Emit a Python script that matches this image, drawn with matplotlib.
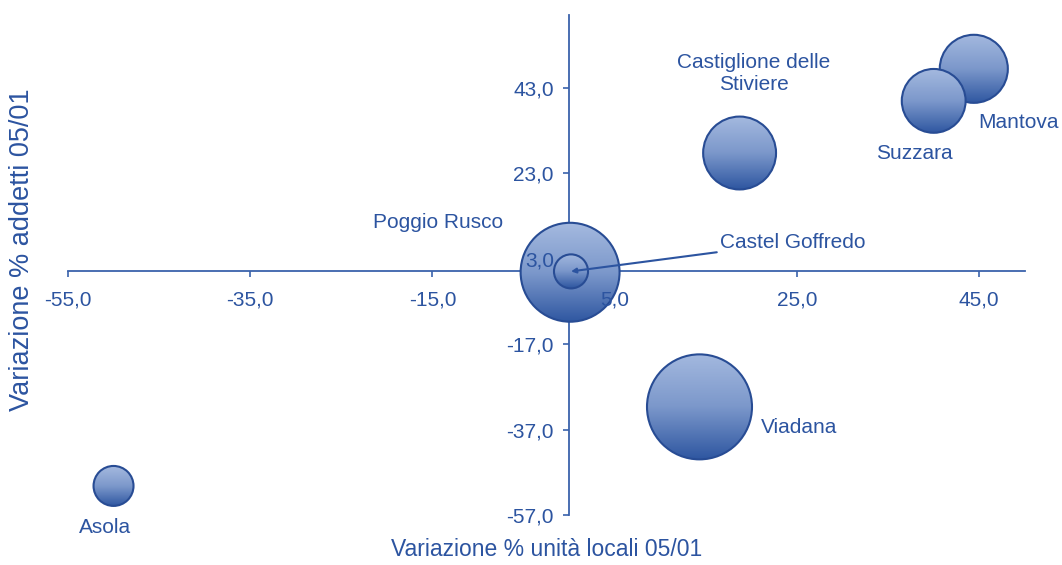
import numpy as np
import matplotlib
matplotlib.use('Agg')
import matplotlib.pyplot as plt
from matplotlib.patches import Ellipse
from matplotlib.colors import LinearSegmentedColormap
from matplotlib.ticker import FuncFormatter

plt.rcParams['font.family'] = ['Liberation Sans', 'DejaVu Sans']

# comuni, variazione % unità locali (x), variazione % addetti (y), dimensione bolla
comuni = ['Asola', 'Poggio Rusco', 'Castel Goffredo', 'Castiglione delle\nStiviere',
          'Mantova', 'Suzzara', 'Viadana']
var_unita = [-50.0, 0.1, 0.2, 18.7, 44.4, 40.0, 14.3]
var_addetti = [-50.2, -0.2, 0.0, 27.7, 47.4, 39.9, -31.7]
dimensione = [4.0, 24.5, 2.9, 13.3, 11.6, 10.2, 27.6]

x_ticks = [-55, -35, -15, 5, 25, 45]
y_ticks = [-57, -37, -17, 3, 23, 43]

BLUE = '#2c54a0'
EDGE = '#284c94'
bubble_cmap = LinearSegmentedColormap.from_list('bolla', ['#a4b9df', '#7c98cb', '#2f57a1'])

# posizione delle etichette rispetto al centro della bolla (punti)
label_offset = {
    'Asola': (-6, -30),
    'Poggio Rusco': (-95, 36),
    'Castiglione delle\nStiviere': (10, 57),
    'Mantova': (32, -39),
    'Suzzara': (-14, -38),
    'Viadana': (72, -15),
}

fig = plt.figure(figsize=(10.62, 5.65), dpi=100)
ax = fig.add_axes([0.064, 0.0885, 0.901, 0.885])
ax.set_xlim(-55, 50)
ax.set_ylim(-57, 60)

# pixel per unità, per disegnare bolle rotonde
p0 = ax.transData.transform((0, 0))
p1 = ax.transData.transform((1, 1))
sx, sy = p1[0] - p0[0], p1[1] - p0[1]
max_r = 52.5
vmax = max(dimensione)

grad = np.linspace(0, 1, 256).reshape(-1, 1)

for i, (name, x, y, d) in enumerate(zip(comuni, var_unita, var_addetti, dimensione)):
    r = max_r * np.sqrt(d / vmax)
    rx, ry = r / sx, r / sy
    z = 2 + i * 0.1
    circ = Ellipse((x, y), 2 * rx, 2 * ry, facecolor='none', edgecolor=EDGE,
                   linewidth=1.5, zorder=z + 0.05)
    ax.add_patch(circ)
    im = ax.imshow(grad, extent=[x - rx, x + rx, y - ry, y + ry], origin='upper',
                   cmap=bubble_cmap, aspect='auto', interpolation='bicubic', zorder=z)
    im.set_clip_path(circ)
    if name in label_offset:
        ax.annotate(name, (x, y), xytext=label_offset[name], textcoords='offset points',
                    ha='center', va='center', fontsize=15, color=BLUE, zorder=5)

# etichetta con linea di richiamo
i_cg = comuni.index('Castel Goffredo')
ax.annotate('Castel Goffredo', (var_unita[i_cg], var_addetti[i_cg]), xytext=(16.5, 6.8),
            ha='left', va='center', fontsize=15, color=BLUE, zorder=5,
            arrowprops=dict(arrowstyle='-|>', color=BLUE, lw=1.5, mutation_scale=7,
                            shrinkA=0, shrinkB=0))

ax.set_xlim(-55, 50)
ax.set_ylim(-57, 60)

for s in ['top', 'right']:
    ax.spines[s].set_visible(False)
for s in ['left', 'bottom']:
    ax.spines[s].set_position(('data', 0))
    ax.spines[s].set_color('#3a62ab')
    ax.spines[s].set_linewidth(1.3)
    ax.spines[s].set_zorder(1)

ax.set_xticks(x_ticks)
ax.set_yticks(y_ticks)
fmt = FuncFormatter(lambda v, p: f'{v:.1f}'.replace('.', ','))
ax.xaxis.set_major_formatter(fmt)
ax.yaxis.set_major_formatter(fmt)
ax.tick_params(axis='both', direction='out', length=4, width=1.2, color='#3a62ab',
               labelcolor=BLUE, labelsize=15)
ax.tick_params(axis='x', pad=10)
ax.tick_params(axis='y', pad=7)
# etichette dei tick sopra le bolle
ax.xaxis.set_zorder(4)
ax.yaxis.set_zorder(4)
# i tick coperti dalla bolla di Poggio Rusco non si vedono
ax.xaxis.get_major_ticks()[x_ticks.index(5)].tick1line.set_visible(False)
ax.yaxis.get_major_ticks()[y_ticks.index(3)].tick1line.set_visible(False)

ax.set_xlabel('Variazione % unità locali 05/01', fontsize=16.5, color=BLUE, va='center')
ax.xaxis.set_label_coords(0.5, -0.07)
ax.set_ylabel('Variazione % addetti 05/01', fontsize=19.5, color=BLUE, va='center', ha='center')
ax.yaxis.set_label_coords(-0.048, 0.53)

fig.savefig('out.png', dpi=100)
